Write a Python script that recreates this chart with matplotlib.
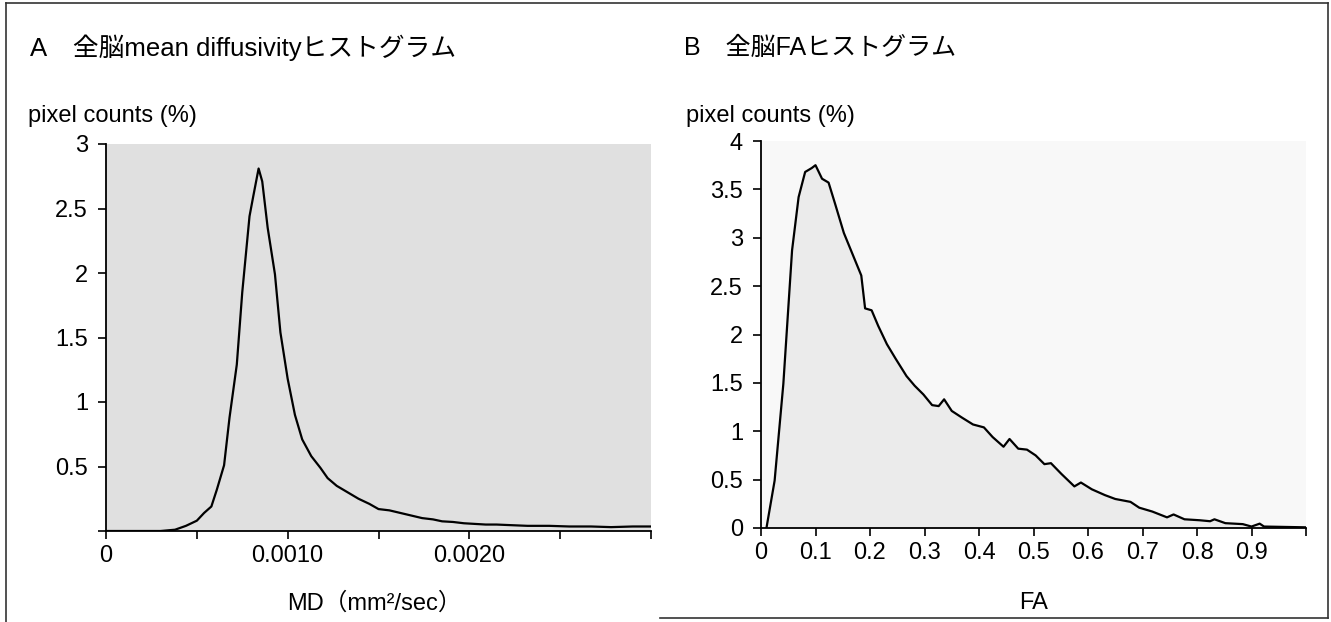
import numpy as np
import matplotlib
matplotlib.use('Agg')
import matplotlib.pyplot as plt
from matplotlib.lines import Line2D

plt.rcParams['font.family'] = ['Liberation Sans', 'Noto Sans CJK JP', 'DejaVu Sans']

# MD histogram (A)
md_x = [0, 0.0003, 0.00038, 0.00044, 0.0005, 0.00054, 0.00058, 0.00061, 0.00065,
        0.00068, 0.00072, 0.00075, 0.00079, 0.00081, 0.00084, 0.00086, 0.00089,
        0.00093, 0.00096, 0.0010, 0.00104, 0.00108, 0.00113, 0.00118, 0.00122,
        0.00127, 0.00133, 0.00139, 0.00145, 0.0015, 0.00156, 0.00162, 0.00168,
        0.00174, 0.0018, 0.00185, 0.00191, 0.00197, 0.00203, 0.00209, 0.00215,
        0.0022, 0.00232, 0.00244, 0.00255, 0.00267, 0.00278, 0.0029, 0.003]
md_y = [0, 0, 0.01, 0.04, 0.08, 0.14, 0.19, 0.32, 0.51,
        0.88, 1.29, 1.85, 2.44, 2.59, 2.81, 2.71, 2.35,
        1.99, 1.54, 1.18, 0.90, 0.71, 0.58, 0.49, 0.41,
        0.35, 0.30, 0.25, 0.21, 0.17, 0.16, 0.14, 0.12,
        0.10, 0.09, 0.075, 0.07, 0.06, 0.055, 0.05, 0.05,
        0.047, 0.04, 0.04, 0.035, 0.035, 0.03, 0.035, 0.035]

# FA histogram (B)
fa_x = [0.01, 0.025, 0.041, 0.057, 0.069, 0.081, 0.093, 0.1, 0.112, 0.124, 0.136,
        0.152, 0.168, 0.184, 0.191, 0.203, 0.215, 0.231, 0.247, 0.267, 0.282,
        0.298, 0.314, 0.326, 0.336, 0.35, 0.369, 0.389, 0.409, 0.425, 0.445,
        0.456, 0.472, 0.488, 0.504, 0.52, 0.532, 0.551, 0.575, 0.587, 0.607,
        0.631, 0.65, 0.678, 0.694, 0.718, 0.745, 0.757, 0.777, 0.805, 0.824,
        0.832, 0.852, 0.884, 0.9, 0.915, 0.923, 1.0]
fa_y = [0, 0.49, 1.49, 2.87, 3.42, 3.68, 3.72, 3.75, 3.61, 3.57, 3.35,
        3.05, 2.83, 2.61, 2.27, 2.25, 2.09, 1.90, 1.75, 1.57, 1.47,
        1.38, 1.27, 1.26, 1.33, 1.21, 1.14, 1.07, 1.04, 0.94, 0.84,
        0.92, 0.82, 0.81, 0.75, 0.66, 0.67, 0.56, 0.43, 0.47, 0.40,
        0.34, 0.30, 0.27, 0.21, 0.17, 0.11, 0.14, 0.09, 0.08, 0.07,
        0.09, 0.05, 0.04, 0.015, 0.045, 0.015, 0.007]

md_ticks = [0, 0.0005, 0.001, 0.0015, 0.002, 0.0025, 0.003]
md_ticklabels = ['0', '', '0.0010', '', '0.0020', '', '']
md_yticks = [0, 0.5, 1, 1.5, 2, 2.5, 3]
md_yticklabels = ['', '0.5', '1', '1.5', '2', '2.5', '3']
fa_ticks = [0, 0.1, 0.2, 0.3, 0.4, 0.5, 0.6, 0.7, 0.8, 0.9, 1.0]
fa_ticklabels = ['0', '0.1', '0.2', '0.3', '0.4', '0.5', '0.6', '0.7', '0.8', '0.9', '']
fa_yticks = [0, 0.5, 1, 1.5, 2, 2.5, 3, 3.5, 4]
fa_yticklabels = ['0', '0.5', '1', '1.5', '2', '2.5', '3', '3.5', '4']

fs = 17
W, H = 1331, 622
fig = plt.figure(figsize=(W / 100, H / 100), dpi=100)

axA = fig.add_axes([106 / W, 1 - 531 / H, 545 / W, 387 / H])
axB = fig.add_axes([761 / W, 1 - 528 / H, 545 / W, 387 / H])

axA.set_facecolor('#e0e0e0')
axA.plot(md_x, md_y, color='black', lw=1.6)
axA.set_xlim(0, 0.003)
axA.set_ylim(0, 3)
axA.set_xticks(md_ticks)
axA.set_xticklabels(md_ticklabels)
axA.set_yticks(md_yticks)
axA.set_yticklabels(md_yticklabels)

axB.set_facecolor('#f8f8f8')
axB.fill_between(fa_x, fa_y, 0, color='#ebebeb', lw=0)
axB.plot(fa_x, fa_y, color='black', lw=1.6)
axB.set_xlim(0, 1.0)
axB.set_ylim(0, 4)
axB.set_xticks(fa_ticks)
axB.set_xticklabels(fa_ticklabels)
axB.set_yticks(fa_yticks)
axB.set_yticklabels(fa_yticklabels)

for ax in (axA, axB):
    for s in ('top', 'right'):
        ax.spines[s].set_visible(False)
    for s in ('left', 'bottom'):
        ax.spines[s].set_linewidth(1.3)
    ax.tick_params(direction='out', length=6, width=1.2, labelsize=fs, pad=4)
    ax.tick_params(axis='y', pad=7)

# titles and axis labels
fig.text(30 / W, 1 - 48 / H, 'A\u3000全脳mean diffusivityヒストグラム', fontsize=18.5, va='center', ha='left')
fig.text(684 / W, 1 - 48 / H, 'B\u3000全脳FAヒストグラム', fontsize=18, va='center', ha='left')
fig.text(28 / W, 1 - 116 / H, 'pixel counts (%)', fontsize=fs, va='center', ha='left')
fig.text(686 / W, 1 - 116 / H, 'pixel counts (%)', fontsize=fs, va='center', ha='left')
fig.text(374 / W, 1 - 603 / H, 'MD（mm²/sec）', fontsize=fs, va='center', ha='center')
fig.text(1034 / W, 1 - 603 / H, 'FA', fontsize=fs, va='center', ha='center')

# outer frame
frame_kw = dict(color='#333333', lw=1.2, transform=fig.transFigure)
fig.add_artist(Line2D([6 / W, 6 / W], [0, 1 - 3 / H], **frame_kw))
fig.add_artist(Line2D([6 / W, 1 - 3 / W], [1 - 3 / H, 1 - 3 / H], **frame_kw))
fig.add_artist(Line2D([1 - 3 / W, 1 - 3 / W], [1 - 3 / H, 4 / H], **frame_kw))
fig.add_artist(Line2D([660 / W, 1 - 3 / W], [4 / H, 4 / H], **frame_kw))

fig.savefig('out.png', dpi=100)
